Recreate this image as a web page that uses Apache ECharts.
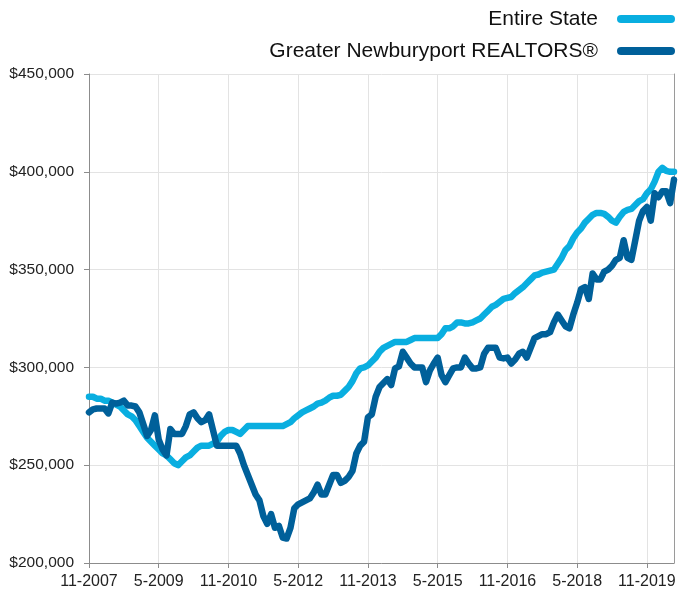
<!DOCTYPE html>
<html>
<head>
<meta charset="utf-8">
<script src="https://cdn.jsdelivr.net/npm/echarts@6/dist/echarts.min.js"></script>
<style>html,body{margin:0;padding:0;background:#fff}#c{width:689px;height:590px}</style>
</head>
<body>
<div id="c"></div>
<script>
// Monthly categories, Nov 2007 .. Jun 2020
var startYear = 2007, startMonth = 11, monthCount = 152;
var categories = [];
for (var k = 0; k < monthCount; k++) {
  var m = (startMonth - 1 + k) % 12 + 1;
  var y = startYear + Math.floor((startMonth - 1 + k) / 12);
  categories.push(m + '-' + y);
}
var tickLabels = ['11-2007','5-2009','11-2010','5-2012','11-2013','5-2015','11-2016','5-2018','11-2019'];
var yTicks = [200000, 250000, 300000, 350000, 400000, 450000];

// values in thousands of dollars
var entireState = [
285,285,284,284,283,283,282,281,280,278,
276,275,273,270,267,264,262,260,258,256,
255,253,251,250,252,254,255,257,259,260,
260,260,261,262,265,267,268,268,267,266,
268,270,270,270,270,270,270,270,270,270,
270,271,272,274,275.5,277,278,279,280,281.5,
282,283,284.5,285.5,285.5,286,288,290,293,297,
299.5,300,301,303,305,308,310,311,312,313,
313,313,313,314,315,315,315,315,315,315,
315,317,320,320,321,323,323,322.5,322.5,323,
324,325,327,329,331,332,333.5,335,335.5,336,
338,339.5,341,343,345,347,347.5,348.5,349,349.5,
350,353,356,360,362,366,369,371,374,376,
378,379,379,378.5,377,375,374,377,379.5,380.5,
381,383,385,386,389,391,395,400,402,400.5,
400,400
];
var newburyport = [
277,278.5,279,279,279,276.5,282,281.5,282,283,
280.5,280.5,280,277,271,265,268,275.5,263,258,
255,268.5,266,266,266,270,276,277,274,272,
273,276,268,260,260,260,260,260,260,256,
250,245,240,235,232,224,220,225,218,219,
213,212.5,218,228,230,231,232,233,236,240,
235,235,240,245,245,241,242,244,247,256,
260,262,274.5,276,285,290,292,294,291,299.5,
300.5,308,305,302,300,300,300,292.5,298.5,302,
305,296,292.5,296,299.5,300,300,305,302,299.5,
299.5,300,307,310,310,310,305,304.6,305,302,
304,307,308,305,310,315,316,317,317,318,
323,327,324,321,320,327,333,340,341,335,
348,345,345,349,350,352,355,356,365,356,
355,365,375,380,382,375,389,387,390,390,
384,396
];

function toDollars(arr) { return arr.map(function (v) { return v * 1000; }); }

var chart = echarts.init(document.getElementById('c'), null, {renderer: 'canvas'});
var fontFam = '"Liberation Sans", Arial, Helvetica, sans-serif';
chart.setOption({
  animation: false,
  backgroundColor: '#ffffff',
  grid: {left: 89, right: 15, top: 74, bottom: 27, containLabel: false},
  legend: {
    orient: 'vertical',
    right: 9,
    top: 3,
    align: 'right',
    itemWidth: 58,
    itemHeight: 8,
    itemGap: 10,
    icon: 'path://M4,0 L54,0 A4,4 0 0 1 54,8 L4,8 A4,4 0 0 1 4,0 Z',
    textStyle: {fontFamily: fontFam, fontSize: 21, color: '#111', lineHeight: 22, padding: [0, 14, 0, 0]},
    data: ['Entire State', 'Greater Newburyport REALTORS®']
  },
  xAxis: {
    type: 'category',
    boundaryGap: false,
    data: categories,
    axisLine: {show: true, lineStyle: {color: '#8c8c8c', width: 1}},
    axisTick: {show: true, interval: 17, length: 5, lineStyle: {color: '#8c8c8c'}},
    axisLabel: {
      interval: 17, margin: 11, fontFamily: fontFam, fontSize: 16, color: '#222',
      formatter: function (v) { return tickLabels.indexOf(v) >= 0 ? v : ''; }
    },
    splitLine: {show: true, interval: 17, lineStyle: {color: '#e3e3e3', width: 1}}
  },
  yAxis: [{
    type: 'value',
    min: yTicks[0],
    max: yTicks[yTicks.length - 1],
    interval: 50000,
    axisLine: {show: true, lineStyle: {color: '#8c8c8c', width: 1}},
    axisTick: {show: true, length: 5, lineStyle: {color: '#8c8c8c'}},
    axisLabel: {
      margin: 15, fontFamily: fontFam, fontSize: 15.5, color: '#222',
      formatter: function (v) { return '$' + v.toLocaleString('en-US'); }
    },
    splitLine: {show: true, lineStyle: {color: '#e3e3e3', width: 1}}
  }, {
    type: 'value',
    position: 'right',
    min: yTicks[0],
    max: yTicks[yTicks.length - 1],
    interval: 50000,
    axisLine: {show: true, lineStyle: {color: '#9a9a9a', width: 1}},
    axisTick: {show: false},
    axisLabel: {show: false},
    splitLine: {show: false}
  }],
  series: [{
    name: 'Entire State',
    type: 'line',
    data: toDollars(entireState),
    showSymbol: false,
    symbol: 'none',
    color: '#09aee0',
    lineStyle: {width: 6.5, color: '#09aee0', join: 'round', cap: 'round'},
    z: 2
  }, {
    name: 'Greater Newburyport REALTORS®',
    type: 'line',
    data: toDollars(newburyport),
    showSymbol: false,
    symbol: 'none',
    color: '#00609a',
    lineStyle: {width: 6.5, color: '#00609a', join: 'round', cap: 'round'},
    z: 3
  }]
});
</script>
</body>
</html>
